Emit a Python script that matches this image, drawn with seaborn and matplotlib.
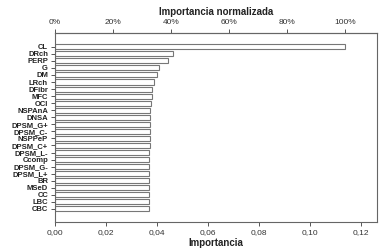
import matplotlib
matplotlib.use("Agg")
import matplotlib.pyplot as plt
import seaborn as sns
import pandas as pd
from matplotlib.ticker import FuncFormatter

categories = ["CL", "DRch", "PERP", "G", "DM", "LRch", "DFibr", "MFC", "OCI",
              "NSPAnA", "DNSA", "DPSM_G+", "DPSM_C-", "NSPPeP", "DPSM_C+",
              "DPSM_L-", "Ccomp", "DPSM_G-", "DPSM_L+", "BR", "MSeD", "CC",
              "LBC", "CBC"]
importance = [0.1137, 0.0462, 0.0444, 0.0409, 0.0400, 0.0387, 0.0382, 0.0379,
              0.0375, 0.0374, 0.0373, 0.0372, 0.0372, 0.0371, 0.0371, 0.0370,
              0.0370, 0.0370, 0.0370, 0.0370, 0.0370, 0.0369, 0.0369, 0.0369]
bottom_ticks = [0.00, 0.02, 0.04, 0.06, 0.08, 0.10, 0.12]
top_ticks = [0, 20, 40, 60, 80, 100]

df = pd.DataFrame({"cat": categories, "imp": importance})

sns.set_style("white")
plt.rcParams["font.family"] = ["Liberation Sans", "DejaVu Sans"]

fig = plt.figure(figsize=(3.87, 2.52), dpi=100)
ax = fig.add_axes([55/387, 30/252, 322/387, 189/252])

sns.barplot(data=df, y="cat", x="imp", orient="h", ax=ax, color="white",
            edgecolor="#777777", linewidth=0.8, width=0.72)

ax.set_xlim(0, 0.1263)
ax.set_ylim(len(categories) - 1 + 1.85, -1.95)

ax.set_xticks(bottom_ticks)
ax.xaxis.set_major_formatter(FuncFormatter(lambda v, p: f"{v:.2f}".replace(".", ",")))
ax.tick_params(axis="x", direction="out", length=3, width=0.7, color="#555555",
               labelsize=6, labelcolor="#333333", pad=2, bottom=True)
ax.tick_params(axis="y", direction="out", length=3, width=0.7, color="#555555",
               labelsize=5.5, labelcolor="#222222", pad=2, left=True)
for lbl in ax.get_yticklabels():
    lbl.set_fontweight("bold")

ax.set_ylabel("")
ax.set_xlabel("Importancia", fontsize=7, fontweight="bold", color="#222222")
ax.xaxis.set_label_coords(0.5, -0.085)

for s in ax.spines.values():
    s.set_color("#666666")
    s.set_linewidth(0.8)

cl = importance[0]
sec = ax.secondary_xaxis("top", functions=(lambda x: x / cl * 100, lambda p: p * cl / 100))
sec.set_xticks(top_ticks)
sec.xaxis.set_major_formatter(FuncFormatter(lambda v, p: f"{v:.0f}%"))
sec.tick_params(axis="x", direction="out", length=3, width=0.7, color="#555555",
                labelsize=6, labelcolor="#333333", pad=2)
sec.spines["top"].set_color("#666666")
sec.set_xlabel("Importancia normalizada", fontsize=7, fontweight="bold", labelpad=3, color="#222222")

fig.savefig("out.png", dpi=100, facecolor="white")
